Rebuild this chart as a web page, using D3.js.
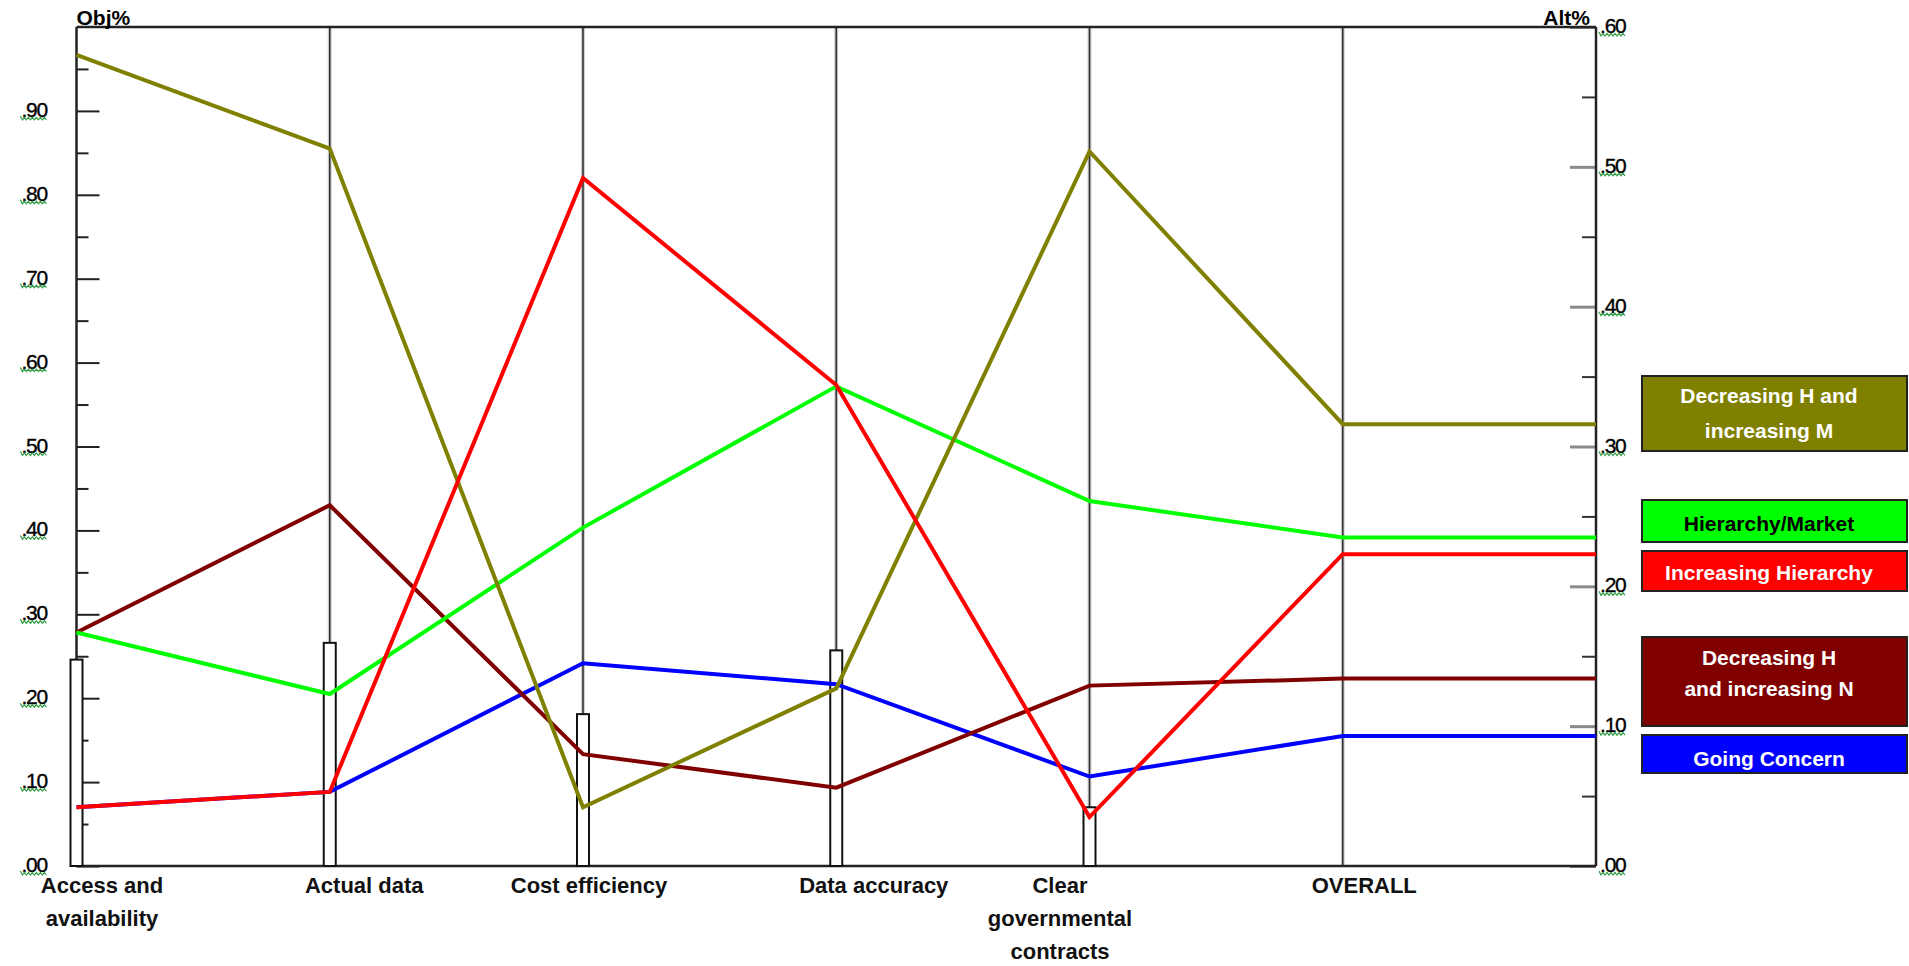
<!DOCTYPE html>
<html>
<head>
<meta charset="utf-8">
<script src="https://cdn.jsdelivr.net/npm/d3@7"></script>
<style>
  html, body { margin: 0; padding: 0; background: #fff; }
  svg { display: block; font-family: "Liberation Sans", Arial, sans-serif; }
</style>
</head>
<body>
<svg id="chart" width="1909" height="966"></svg>
<script>
// ---------------- DATA ----------------
const categories = ["Access and availability", "Actual data", "Cost efficiency", "Data accuracy", "Clear governmental contracts", "OVERALL"];
const categoryLines = [["Access and", "availability"], ["Actual data"], ["Cost efficiency"], ["Data accuracy"], ["Clear", "governmental", "contracts"], ["OVERALL"]];
// objective weights (Obj%), one per objective (not OVERALL)
const objWeights = [0.246, 0.266, 0.181, 0.257, 0.070];
// alternative priorities (Alt%) per category
const seriesNames = ["Decreasing H and increasing M", "Hierarchy/Market", "Increasing Hierarchy", "Decreasing H and increasing N", "Going Concern"];
const decHincM = [0.580, 0.513, 0.042, 0.127, 0.511, 0.316];
const hierMarket = [0.167, 0.123, 0.242, 0.343, 0.261, 0.235];
const incHier = [0.042, 0.053, 0.492, 0.344, 0.035, 0.223];
const decHincN = [0.167, 0.258, 0.080, 0.056, 0.129, 0.134];
const goingConcern = [0.042, 0.053, 0.145, 0.130, 0.064, 0.093];
const leftTicks = [0, 0.05, 0.1, 0.15, 0.2, 0.25, 0.3, 0.35, 0.4, 0.45, 0.5, 0.55, 0.6, 0.65, 0.7, 0.75, 0.8, 0.85, 0.9, 0.95];
const leftLabels = [0, 0.1, 0.2, 0.3, 0.4, 0.5, 0.6, 0.7, 0.8, 0.9];
const rightTicks = [0, 0.05, 0.1, 0.15, 0.2, 0.25, 0.3, 0.35, 0.4, 0.45, 0.5, 0.55, 0.6];
const rightLabels = [0, 0.1, 0.2, 0.3, 0.4, 0.5, 0.6];

// ---------------- LAYOUT / STYLE ----------------
const colors = ["#808000", "#00ff00", "#ff0000", "#800000", "#0000ff"];
const legendText = [["Decreasing H and", "increasing M"], ["Hierarchy/Market"], ["Increasing Hierarchy"], ["Decreasing H", "and increasing N"], ["Going Concern"]];
const legendTextColor = ["#fff", "#000", "#fff", "#fff", "#fff"];
const legendBox = [ // top, height
  [376, 75], [500, 42], [551, 40], [637, 89], [735, 38]
];
const legendLineY = [[403, 438], [531], [580], [665, 696], [766]];
const labelDx = [25.5, 34.5, 6, 37.5, -29.5, 21.5];
const drawOrder = [4, 3, 1, 0, 2];

const svg = d3.select("#chart");
const X0 = 76.5, X1 = 1596, YT = 27, YB = 866;
const x = d3.scaleLinear().domain([0, categories.length]).range([X0, X1]);
const yL = d3.scaleLinear().domain([0, 1]).range([YB, YT]);
const yR = d3.scaleLinear().domain([0, 0.6]).range([YB, YT]);
const fmt = d => d3.format(".2f")(d).replace(/^0/, "");
const isMajor = d => Math.abs(d * 10 - Math.round(d * 10)) < 1e-6;

const allSeries = [decHincM, hierMarket, incHier, decHincN, goingConcern];

// category vertical lines
categories.forEach((c, i) => {
  if (i === 0) return;
  svg.append("line").attr("x1", x(i)).attr("x2", x(i)).attr("y1", YT).attr("y2", YB)
    .attr("stroke", "#cfcfcf").attr("stroke-width", 4);
  svg.append("line").attr("x1", x(i)).attr("x2", x(i)).attr("y1", YT).attr("y2", YB)
    .attr("stroke", "#333").attr("stroke-width", 1.6);
});

// left axis ticks (Obj%)
const la = svg.append("g").attr("transform", `translate(${X0},0)`)
  .call(d3.axisRight(yL).tickValues(leftTicks).tickFormat(""));
la.select(".domain").remove();
la.selectAll(".tick line").attr("x2", d => isMajor(d) ? 23 : 12).attr("stroke", "#222").attr("stroke-width", 2);

// right axis ticks (Alt%)
const ra = svg.append("g").attr("transform", `translate(${X1},0)`)
  .call(d3.axisLeft(yR).tickValues(rightTicks).tickFormat(""));
ra.select(".domain").remove();
ra.selectAll(".tick line").attr("x2", d => isMajor(d) ? -26 : -14)
  .attr("stroke", d => isMajor(d) ? "#8a8a8a" : "#333").attr("stroke-width", d => isMajor(d) ? 3 : 2);

// frame
const frame = svg.append("g").attr("stroke", "#222").attr("stroke-width", 2.5).attr("fill", "none");
frame.append("line").attr("x1", X0).attr("x2", X1).attr("y1", YT).attr("y2", YT);
frame.append("line").attr("x1", X0).attr("x2", X1).attr("y1", YB).attr("y2", YB);
frame.append("line").attr("x1", X0).attr("x2", X0).attr("y1", YT).attr("y2", YB);
frame.append("line").attr("x1", X1).attr("x2", X1).attr("y1", YT).attr("y2", YB);

// objective weight bars
svg.append("g").selectAll("rect").data(objWeights).join("rect")
  .attr("x", (d, i) => x(i) - 6).attr("width", 12)
  .attr("y", d => yL(d)).attr("height", d => yL(0) - yL(d))
  .attr("fill", "#fff").attr("stroke", "#111").attr("stroke-width", 2);

// tick labels with green squiggle
function squiggle(g, x0, x1, y) {
  let p = `M${x0 - 2},${y - 3} L${x0},${y + 1}`;
  let up = true;
  for (let xx = x0 + 2; xx <= x1; xx += 2) { p += ` L${xx},${up ? y - 1.5 : y + 1}`; up = !up; }
  g.append("path").attr("d", p).attr("fill", "none").attr("stroke", "#2f9e44").attr("stroke-width", 1.2);
}
const lbl = svg.append("g").attr("font-size", 21).attr("fill", "#000").attr("letter-spacing", -1.2)
  .attr("stroke", "#000").attr("stroke-width", 0.35);
leftLabels.forEach(v => {
  const t = lbl.append("text").attr("x", 47).attr("y", yL(v) + 6).attr("text-anchor", "end").text(fmt(v));
  const b = t.node().getBBox();
  squiggle(lbl, b.x + 1, b.x + b.width, yL(v) + 8);
});
rightLabels.forEach(v => {
  const t = lbl.append("text").attr("x", X1 + 4).attr("y", yR(v) + 6).attr("text-anchor", "start").text(fmt(v));
  const b = t.node().getBBox();
  squiggle(lbl, b.x + 1, b.x + b.width, yR(v) + 8);
});

// axis titles
svg.append("text").attr("x", X0).attr("y", 25).attr("font-size", 21).attr("font-weight", "bold").text("Obj%");
svg.append("text").attr("x", X1 - 6).attr("y", 25).attr("font-size", 21).attr("font-weight", "bold").attr("text-anchor", "end").text("Alt%");

// series lines (extend OVERALL value to right axis)
const line = d3.line().x((d, i) => x(i)).y(d => yR(d)).curve(d3.curveLinear);
drawOrder.forEach(k => {
  const vals = allSeries[k].concat([allSeries[k][allSeries[k].length - 1]]);
  svg.append("path").datum(vals).attr("d", line)
    .attr("fill", "none").attr("stroke", colors[k]).attr("stroke-width", 4)
    .attr("stroke-linejoin", "miter");
});

// category labels
const cl = svg.append("g").attr("font-size", 22).attr("font-weight", "bold").attr("fill", "#111").attr("text-anchor", "middle");
categoryLines.forEach((lines, i) => {
  lines.forEach((s, j) => {
    cl.append("text").attr("x", x(i) + labelDx[i]).attr("y", 893 + j * 33).text(s);
  });
});

// legend boxes
const lg = svg.append("g");
seriesNames.forEach((n, k) => {
  lg.append("rect").attr("x", 1642).attr("y", legendBox[k][0]).attr("width", 265).attr("height", legendBox[k][1])
    .attr("fill", colors[k]).attr("stroke", "#222").attr("stroke-width", 2);
  legendText[k].forEach((s, j) => {
    lg.append("text").attr("x", 1769).attr("y", legendLineY[k][j]).attr("text-anchor", "middle")
      .attr("font-size", 21).attr("font-weight", "bold").attr("fill", legendTextColor[k]).text(s);
  });
});
</script>
</body>
</html>
